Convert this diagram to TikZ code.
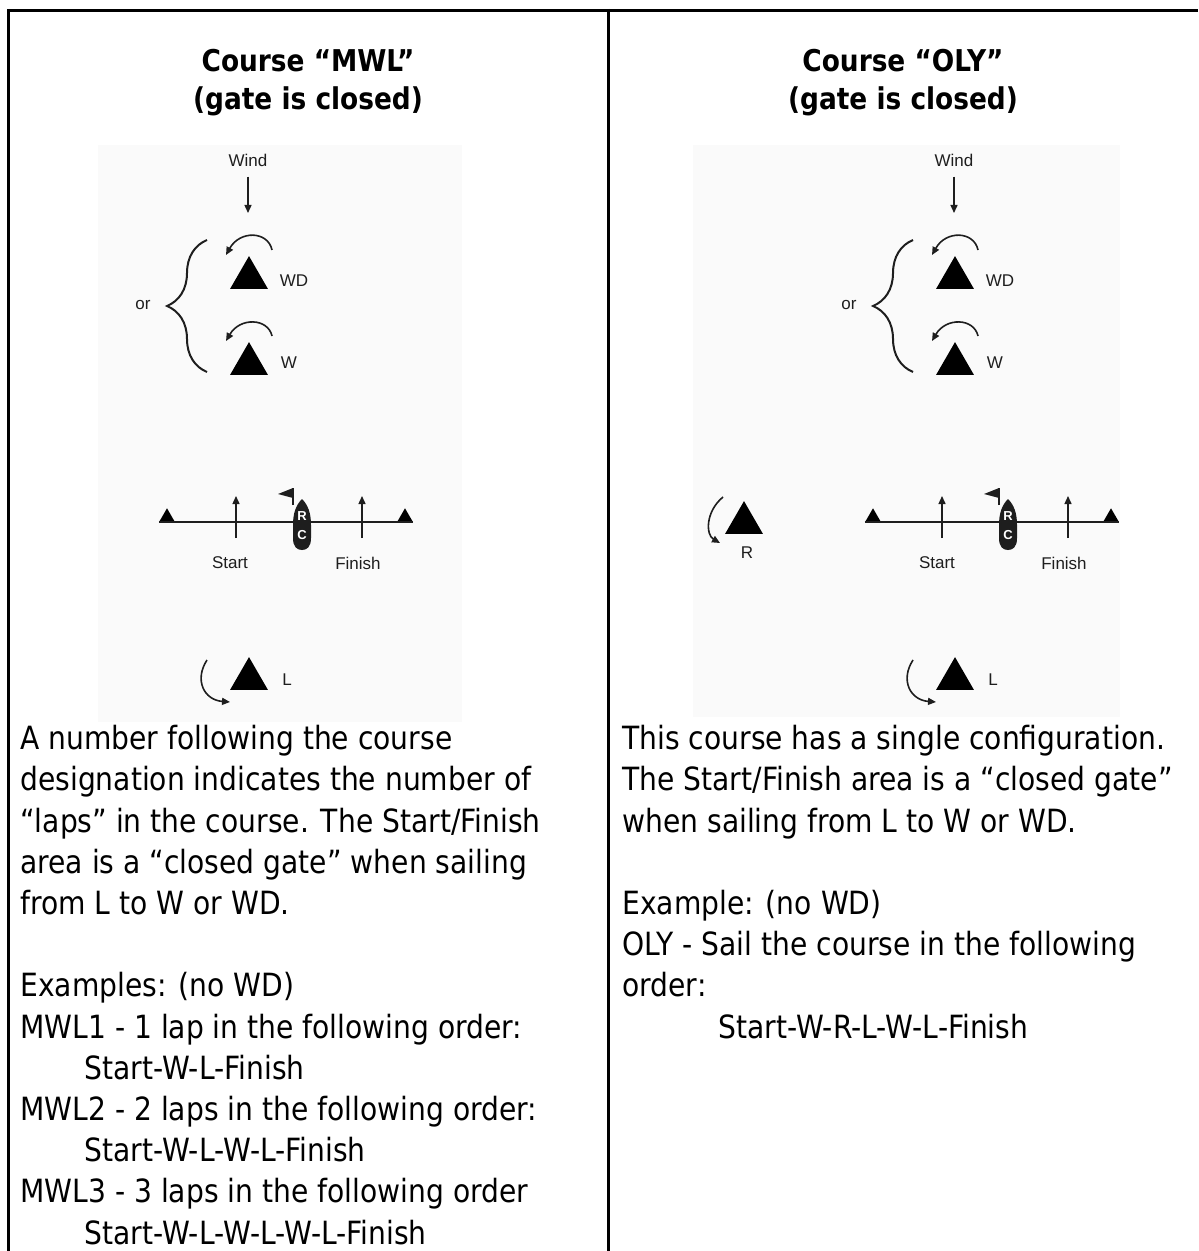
\documentclass[tikz,border=0pt]{standalone}
\usepackage{fontspec}
\setmainfont{DejaVu Sans}[FakeStretch=0.88]
\newfontfamily\diagfont{Liberation Sans}
\usetikzlibrary{arrows.meta,shapes.geometric,decorations.pathreplacing}
\definecolor{diagbg}{RGB}{250,250,250}
\definecolor{ink}{RGB}{30,30,30}

\begin{document}
\begin{tikzpicture}
    [   x=0.5pt, y=-0.5pt,
        frame/.style={line width=1.5pt},
        title/.style={font=\bfseries\fontsize{15}{19}\selectfont, align=center, anchor=base, inner sep=0},
        body/.style={font=\fontsize{16}{20.6}\selectfont, align=left, anchor=base west, inner sep=0},
        lbl/.style={font=\diagfont\fontsize{8.5}{10}\selectfont, text=ink, inner sep=0},
        rcmark/.style={font=\diagfont\bfseries\fontsize{6.5}{9.5}\selectfont, text=white, align=center, inner sep=0},
        bigmark/.style={regular polygon, regular polygon sides=3, fill=black, inner sep=0, minimum size=21.9pt},
        pinmark/.style={regular polygon, regular polygon sides=3, fill=black, inner sep=0, minimum size=8.7pt},
        tip/.style={draw=ink, line width=0.7pt, -{Triangle[length=4pt,width=3.5pt]}},
        turn/.style={draw=ink, line width=0.8pt, -{Triangle[length=4pt,width=3.5pt]}},
        gate/.style={draw=ink, line width=1pt},
        brace/.style={draw=ink, line width=1pt, decorate, decoration={brace, amplitude=20pt}},
    ]
    \useasboundingbox (0,0) rectangle (1198,1251);

    % table lines
    \draw[frame] (7,10.5) -- (1198,10.5);
    \draw[frame] (8.5,9) -- (8.5,1251);
    \draw[frame] (608,9) -- (608,1251);

    % headings (anchored at the last line)
    \node[title] (headA) at (308,110) {Course “MWL”\\(gate is closed)};
    \node[title] (headB) at (903,110) {Course “OLY”\\(gate is closed)};

    % left course: MWL
    \fill[diagbg] (98,145) rectangle (462,722);
    \node[lbl] (windA) at (248,160) {Wind};
    \coordinate (windtipA) at (248,213);
    \draw[tip, shorten <=5pt] (windA.south) -- (windtipA);

    \draw[brace] (207,372) -- (207,240);
    \node[lbl] (orA) at (143,305) {or};

    \node[bigmark] (wdA) at (249,278) {};
    \node[lbl] (wdlblA) at (294,281) {WD};
    \draw[turn] (272,250) .. controls (268,231) and (240,230) .. (226,255);

    \node[bigmark] (wA) at (249,364) {};
    \node[lbl] (wlblA) at (289,363) {W};
    \draw[turn] (272,336) .. controls (268,318) and (240,317) .. (226,341);

    \node[pinmark] (pinlA) at (167,517) {};
    \node[pinmark] (pinrA) at (405,517) {};
    \draw[gate] (pinlA.corner 2) -- (pinrA.corner 3);
    \coordinate (stbA) at (236,538);
    \coordinate (sttA) at (236,496);
    \draw[tip] (stbA) -- (sttA);
    \coordinate (fibA) at (362,538);
    \coordinate (fitA) at (362,496);
    \draw[tip] (fibA) -- (fitA);
    \node[lbl] (startA) at (230,563) {Start};
    \node[lbl] (finishA) at (358,563) {Finish};

    \fill[ink, shift={(302,525)}] (0,-26) .. controls (6,-20) and (9,-12) .. (9,0) -- (9,13)
        .. controls (9,22) and (5,25) .. (0,25) .. controls (-5,25) and (-9,22) .. (-9,13) -- (-9,0)
        .. controls (-9,-12) and (-6,-20) .. (0,-26) -- cycle;
    \draw[ink, line width=0.8pt] (293,505) -- (293,488);
    \fill[ink] (293,488) -- (293,498) -- (278,494) -- cycle;
    \node[rcmark] (rcA) at (302,526) {R\\C};

    \node[bigmark] (lA) at (249,679) {};
    \node[lbl] (llblA) at (287,680) {L};
    \draw[turn] (207,660) .. controls (194,680) and (204,700) .. (230,702);

    % right course: OLY
    \fill[diagbg] (693,145) rectangle (1120,717);
    \node[lbl] (windB) at (954,160) {Wind};
    \coordinate (windtipB) at (954,213);
    \draw[tip, shorten <=5pt] (windB.south) -- (windtipB);

    \draw[brace] (913,372) -- (913,240);
    \node[lbl] (orB) at (849,305) {or};

    \node[bigmark] (wdB) at (955,278) {};
    \node[lbl] (wdlblB) at (1000,281) {WD};
    \draw[turn] (978,250) .. controls (974,231) and (946,230) .. (932,255);

    \node[bigmark] (wB) at (955,364) {};
    \node[lbl] (wlblB) at (995,363) {W};
    \draw[turn] (978,336) .. controls (974,318) and (946,317) .. (932,341);

    \node[bigmark] (rB) at (744,523) {};
    \node[lbl] (rlblB) at (747,553) {R};
    \draw[turn] (723,497) .. controls (705,512) and (706,535) .. (720,543);

    \node[pinmark] (pinlB) at (873,517) {};
    \node[pinmark] (pinrB) at (1111,517) {};
    \draw[gate] (pinlB.corner 2) -- (pinrB.corner 3);
    \coordinate (stbB) at (942,538);
    \coordinate (sttB) at (942,496);
    \draw[tip] (stbB) -- (sttB);
    \coordinate (fibB) at (1068,538);
    \coordinate (fitB) at (1068,496);
    \draw[tip] (fibB) -- (fitB);
    \node[lbl] (startB) at (937,563) {Start};
    \node[lbl] (finishB) at (1064,563) {Finish};

    \fill[ink, shift={(1008,525)}] (0,-26) .. controls (6,-20) and (9,-12) .. (9,0) -- (9,13)
        .. controls (9,22) and (5,25) .. (0,25) .. controls (-5,25) and (-9,22) .. (-9,13) -- (-9,0)
        .. controls (-9,-12) and (-6,-20) .. (0,-26) -- cycle;
    \draw[ink, line width=0.8pt] (999,505) -- (999,488);
    \fill[ink] (999,488) -- (999,498) -- (984,494) -- cycle;
    \node[rcmark] (rcB) at (1008,526) {R\\C};

    \node[bigmark] (lB) at (955,679) {};
    \node[lbl] (llblB) at (993,680) {L};
    \draw[turn] (913,660) .. controls (900,680) and (910,700) .. (936,702);

    % texts below the courses (anchored at the last line)
    \node[body] (textA) at (20,1244) {A number following the course\\
        designation indicates the number of\\
        “laps” in the course. The Start/Finish\\
        area is a “closed gate” when sailing\\
        from L to W or WD.\\[20.6pt]
        Examples: (no WD)\\
        MWL1 - 1 lap in the following order:\\
        \hspace*{32pt}Start-W-L-Finish\\
        MWL2 - 2 laps in the following order:\\
        \hspace*{32pt}Start-W-L-W-L-Finish\\
        MWL3 - 3 laps in the following order\\
        \hspace*{32pt}Start-W-L-W-L-W-L-Finish};
    \node[body] (textB) at (622,1038) {This course has a single configuration.\\
        The Start/Finish area is a “closed gate”\\
        when sailing from L to W or WD.\\[20.6pt]
        Example: (no WD)\\
        OLY - Sail the course in the following\\
        order:\\
        \hspace*{48pt}Start-W-R-L-W-L-Finish};
\end{tikzpicture}
\end{document}
